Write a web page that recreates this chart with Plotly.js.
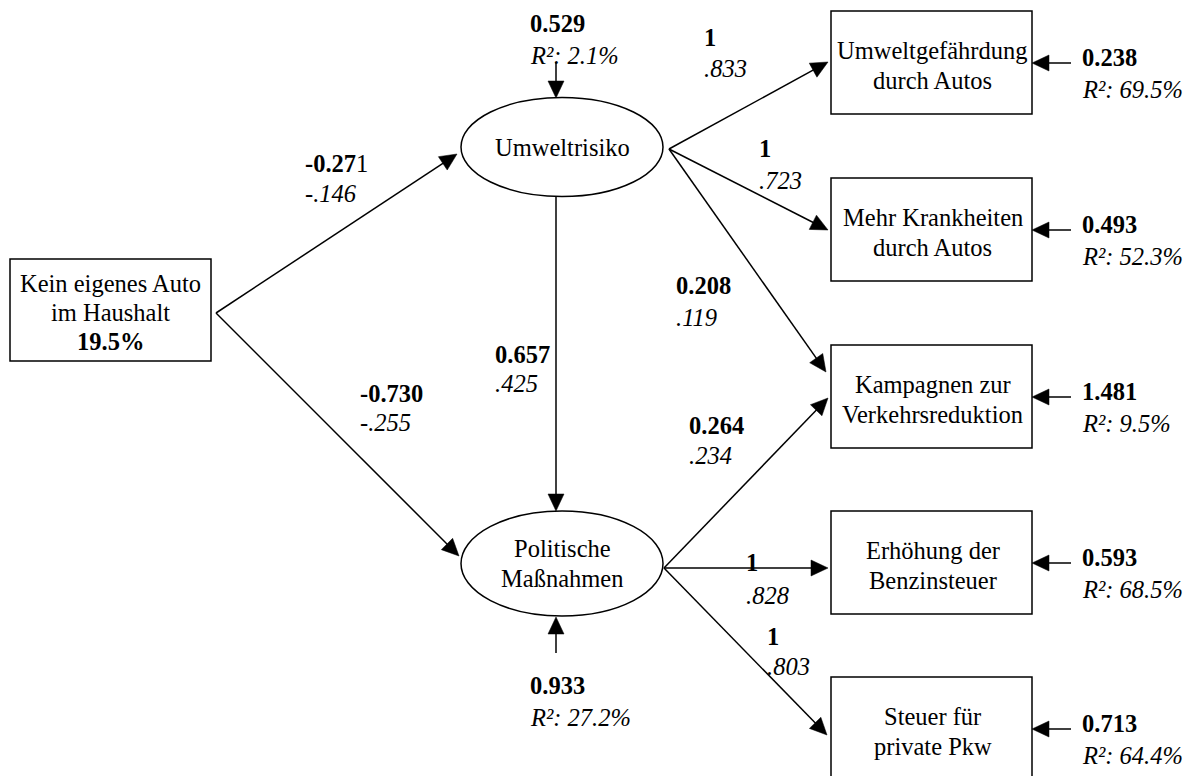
<!DOCTYPE html>
<html>
<head>
<meta charset="utf-8">
<script src="https://cdn.plot.ly/plotly-3.0.1.min.js"></script>
<style>html,body{margin:0;padding:0;background:#fff;}#chart{width:1193px;height:776px;}</style>
</head>
<body>
<div id="chart"></div>
<script>
// ---------- DATA ----------
const exogenousLabel = ["Kein eigenes Auto", "im Haushalt"];
const exogenousShare = "19.5%";
const latentLabels = [["Umweltrisiko"], ["Politische", "Maßnahmen"]];
const indicatorLabels = [
  ["Umweltgefährdung", "durch Autos"],
  ["Mehr Krankheiten", "durch Autos"],
  ["Kampagnen zur", "Verkehrsreduktion"],
  ["Erhöhung der", "Benzinsteuer"],
  ["Steuer für", "private Pkw"]
];
// path coefficients: unstandardized (bold) and standardized (italic)
const pathNames = ["Auto→Umwelt", "Auto→Politik", "Umwelt→Politik", "Umwelt→Gefährdung", "Umwelt→Krankheiten",
                   "Umwelt→Kampagnen", "Politik→Kampagnen", "Politik→Benzinsteuer", "Politik→Pkw-Steuer"];
const pathUnstd = ["-0.271", "-0.730", "0.657", "1", "1", "0.208", "0.264", "1", "1"];
const pathStd   = ["-.146", "-.255", ".425", ".833", ".723", ".119", ".234", ".828", ".803"];
// residual variances and R² : latent (Umwelt, Politik) then indicators
const latentResid = ["0.529", "0.933"];
const latentR2 = ["2.1%", "27.2%"];
const indicatorResid = ["0.238", "0.493", "1.481", "0.593", "0.713"];
const indicatorR2 = ["69.5%", "52.3%", "9.5%", "68.5%", "64.4%"];

// ---------- LAYOUT / GEOMETRY (diagram positions, pixel-like units) ----------
const FONT = "Liberation Serif";
const FS = 24.5;
const LW = 1.5;
const LH = 30;
const exoBox = {x0: 10, x1: 211, y0: 259, y1: 361};
const ellipses = [{cx: 562, cy: 147, rx: 101, ry: 49.5}, {cx: 562, cy: 563.5, rx: 101, ry: 52.5}];
const boxX = [831, 1032];
const boxTop = [11, 178, 345, 511, 677];
const boxH = 103;
const edgeGeom = [
  [[216, 313], [457, 154]],
  [[216, 313], [459, 556]],
  [[556, 197], [556, 511]],
  [[669, 149], [828, 62]],
  [[669, 149], [828, 230]],
  [[669, 149], [826, 372]],
  [[664, 568], [828, 398]],
  [[664, 568], [828, 568]],
  [[664, 568], [827, 735]]
];
const labelPos = [
  [303, 163, 193], [358, 393, 422], [493, 354, 383],
  [702, 37, 68], [757, 148, 180], [674, 285, 317],
  [687, 425, 455], [744, 562, 595], [765, 636, 666]
];
const boldPrefix = [5, null, null, null, null, null, null, null, null];

const shapes = [];
const annotations = [];

function txt(x, y, text, anchor, extra) {
  annotations.push(Object.assign({
    x: x, y: y, xref: 'x', yref: 'y', text: text, showarrow: false,
    xanchor: anchor || 'center', yanchor: 'middle',
    font: {family: FONT, size: FS, color: '#000'}
  }, extra || {}));
}
function line(p, q) {
  shapes.push({type: 'line', xref: 'x', yref: 'y', x0: p[0], y0: p[1], x1: q[0], y1: q[1],
               line: {color: '#000', width: LW}});
}
function arrow(s, t) {
  const L = 17, W = 8;
  const dx = t[0] - s[0], dy = t[1] - s[1];
  const len = Math.hypot(dx, dy);
  const ux = dx / len, uy = dy / len;
  const bx = t[0] - L * ux, by = t[1] - L * uy;
  line(s, [bx + ux, by + uy]);
  const nx = -uy, ny = ux;
  shapes.push({type: 'path', xref: 'x', yref: 'y',
    path: `M${t[0]},${t[1]} L${bx + W * nx},${by + W * ny} L${bx - W * nx},${by - W * ny} Z`,
    fillcolor: '#000', line: {color: '#000', width: 0.5}});
}
function rect(x0, y0, x1, y1) {
  shapes.push({type: 'rect', xref: 'x', yref: 'y', x0: x0, y0: y0, x1: x1, y1: y1,
               line: {color: '#000', width: LW}, fillcolor: 'rgba(0,0,0,0)'});
}

// exogenous box
rect(exoBox.x0, exoBox.y0, exoBox.x1, exoBox.y1);
const exoCx = (exoBox.x0 + exoBox.x1) / 2;
exogenousLabel.forEach((t, i) => txt(exoCx, 283 + i * 29, t));
txt(exoCx, 341, '<b>' + exogenousShare + '</b>');

// latent ellipses
ellipses.forEach((e, i) => {
  shapes.push({type: 'circle', xref: 'x', yref: 'y', x0: e.cx - e.rx, x1: e.cx + e.rx,
               y0: e.cy - e.ry, y1: e.cy + e.ry, line: {color: '#000', width: LW}});
  const lines = latentLabels[i];
  const start = e.cy - (lines.length - 1) * LH / 2;
  lines.forEach((t, k) => txt(e.cx, start + k * LH, t));
});

// indicator boxes
indicatorLabels.forEach((lines, i) => {
  const y0 = boxTop[i];
  rect(boxX[0], y0, boxX[1], y0 + boxH);
  const cx = (boxX[0] + boxX[1]) / 2;
  lines.forEach((t, k) => txt(cx + 1, y0 + 39 + k * LH, t));
  // residual arrow
  const ay = y0 + 52;
  arrow([1071, ay], [boxX[1], ay]);
  txt(1080, ay - 6, '<b>' + indicatorResid[i] + '</b>', 'left');
  txt(1080, ay + 26, '<i>R²: ' + indicatorR2[i] + '</i>', 'left');
});

// structural / measurement paths
edgeGeom.forEach((g, i) => {
  arrow(g[0], g[1]);
  const [lx, ly1, ly2] = labelPos[i];
  const v = pathUnstd[i];
  const bp = boldPrefix[i];
  const bold = bp ? '<b>' + v.slice(0, bp) + '</b>' + v.slice(bp) : '<b>' + v + '</b>';
  txt(lx, ly1, bold, 'left');
  txt(lx, ly2, '<i>' + pathStd[i] + '</i>', 'left');
});

// latent residuals
arrow([556, 62], [556, 98]);
txt(528, 23, '<b>' + latentResid[0] + '</b>', 'left');
txt(528, 55, '<i>R²: ' + latentR2[0] + '</i>', 'left');
arrow([556, 653], [556, 617]);
txt(528, 685, '<b>' + latentResid[1] + '</b>', 'left');
txt(528, 717, '<i>R²: ' + latentR2[1] + '</i>', 'left');

const layout = {
  width: 1193, height: 776,
  margin: {l: 0, r: 0, t: 0, b: 0},
  paper_bgcolor: '#fff', plot_bgcolor: '#fff',
  showlegend: false,
  font: {family: FONT},
  xaxis: {range: [0, 1193], visible: false, fixedrange: true},
  yaxis: {range: [776, 0], visible: false, fixedrange: true},
  shapes: shapes,
  annotations: annotations
};
Plotly.newPlot('chart', [{x: [], y: [], type: 'scatter', mode: 'markers'}], layout,
               {staticPlot: true, displayModeBar: false});
</script>
</body>
</html>
